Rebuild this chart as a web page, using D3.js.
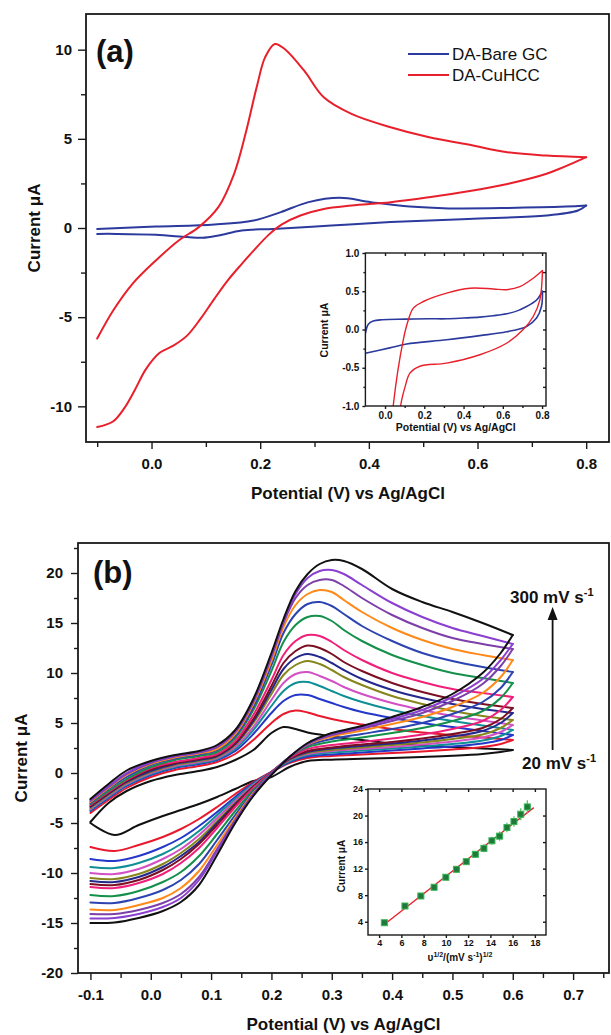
<!DOCTYPE html>
<html>
<head>
<meta charset="utf-8">
<script src="https://cdn.jsdelivr.net/npm/d3@7"></script>
<style>
  body { margin: 0; background: #fff; }
  svg text { font-family: Arial, "Liberation Sans", sans-serif; }
</style>
</head>
<body>
<svg id="chart" width="611" height="1035"></svg>
<script>
// ---------- panel (a) : potential (V), current (uA)
const bareGcForward = [[-0.1,-0.05],[0.008,0.08],[0.116,0.2],[0.188,0.42],[0.238,0.89],[0.289,1.45],[0.346,1.69],[0.404,1.45],[0.475,1.2],[0.547,1.1],[0.655,1.12],[0.763,1.2],[0.8,1.26]];
const bareGcReverse = [[0.8,1.26],[0.785,0.98],[0.727,0.7],[0.583,0.51],[0.44,0.33],[0.331,0.14],[0.224,-0.05],[0.166,-0.14],[0.123,-0.42],[0.094,-0.55],[0.066,-0.51],[0.008,-0.38],[-0.064,-0.33],[-0.1,-0.33]];
const cuhccForward = [[-0.1,-6.2],[-0.07,-4.6],[-0.035,-3.13],[0.008,-1.82],[0.05,-0.7],[0.087,0.05],[0.123,1.17],[0.152,3.04],[0.173,5.28],[0.195,8.08],[0.209,9.57],[0.227,10.32],[0.245,10.04],[0.281,8.82],[0.317,7.33],[0.368,6.4],[0.44,5.65],[0.511,5.09],[0.583,4.68],[0.655,4.25],[0.727,4.06],[0.8,3.97]];
const cuhccReverse = [[0.8,3.97],[0.727,3.04],[0.655,2.47],[0.583,2.06],[0.511,1.73],[0.44,1.45],[0.368,1.26],[0.317,1.07],[0.274,0.7],[0.24,0.2],[0.215,-0.4],[0.19,-1.2],[0.165,-2.05],[0.14,-2.95],[0.115,-4.0],[0.09,-5.1],[0.065,-6.05],[0.04,-6.6],[0.015,-7.0],[-0.01,-7.9],[-0.031,-9.1],[-0.05,-10.1],[-0.071,-10.85],[-0.1,-11.16]];
const legendNames = ["DA-Bare GC", "DA-CuHCC"];

// inset of (a): blank electrolyte
const insetBareForward = [[-0.1,-0.05],[-0.085,0.07],[-0.06,0.11],[-0.015,0.127],[0.1,0.135],[0.222,0.14],[0.314,0.14],[0.4,0.15],[0.483,0.162],[0.55,0.18],[0.619,0.205],[0.68,0.25],[0.721,0.3],[0.76,0.36],[0.78,0.41],[0.802,0.5]];
const insetBareReverse = [[0.802,0.5],[0.797,0.3],[0.772,0.15],[0.721,0.04],[0.619,-0.03],[0.483,-0.08],[0.314,-0.135],[0.11,-0.19],[0.024,-0.24],[-0.1,-0.31]];
const insetCuhccForward = [[0.03,-1.4],[0.042,-0.99],[0.093,-0.135],[0.119,0.127],[0.144,0.28],[0.195,0.366],[0.314,0.476],[0.433,0.54],[0.551,0.53],[0.619,0.52],[0.687,0.56],[0.755,0.67],[0.802,0.77]];
const insetCuhccReverse = [[0.802,0.77],[0.789,0.39],[0.755,0.17],[0.704,0.0],[0.619,-0.18],[0.483,-0.33],[0.314,-0.44],[0.178,-0.48],[0.127,-0.57],[0.102,-0.75],[0.08,-0.99],[0.07,-1.4]];

// ---------- panel (b) : scan rates 20..300 mV/s
const scanRates = [20, 40, 60, 80, 100, 120, 140, 160, 180, 200, 220, 240, 260, 280, 300];
const rateColors = ["#111111","#e8192c","#2437c8","#0e8f95","#d24fc4","#86861c","#22288c","#7a0f22","#f0207a","#14904a","#2c44b0","#ff8a1a","#7d3fa8","#8a3fd0","#111111"];
const potForward = [-0.1,-0.07,-0.04,0.0,0.04,0.08,0.11,0.14,0.17,0.2,0.22,0.24,0.26,0.28,0.3,0.32,0.35,0.4,0.45,0.5,0.55,0.6];
const potReverse = [0.6,0.58,0.55,0.5,0.45,0.4,0.35,0.3,0.26,0.23,0.2,0.17,0.14,0.11,0.08,0.05,0.02,-0.02,-0.06,-0.1];
const currentForward = [
  [-4.9,-3.0,-1.8,-0.8,-0.2,0.2,0.6,1.3,2.3,4.0,4.6,4.4,4.05,3.85,3.65,3.5,3.3,2.95,2.75,2.6,2.45,2.3],
  [-4.0,-2.7,-1.5,-0.4,0.3,0.7,1.1,1.9,3.3,5.0,5.9,6.25,6.05,5.7,5.4,5.15,4.85,4.4,4.05,3.8,3.55,3.3],
  [-3.8,-2.5,-1.3,-0.2,0.5,0.9,1.3,2.2,3.9,6.0,7.2,7.8,7.8,7.4,7.0,6.6,6.1,5.5,5.0,4.6,4.2,3.8],
  [-3.7,-2.4,-1.2,-0.1,0.6,1.0,1.4,2.4,4.3,6.7,8.2,9.0,9.1,8.7,8.2,7.7,7.1,6.3,5.7,5.2,4.75,4.3],
  [-3.6,-2.3,-1.1,0.0,0.7,1.1,1.5,2.6,4.6,7.3,9.0,9.9,10.1,9.7,9.2,8.6,7.9,7.0,6.3,5.7,5.25,4.8],
  [-3.5,-2.2,-1.0,0.1,0.8,1.2,1.6,2.8,5.0,7.9,9.8,10.8,11.2,10.9,10.3,9.6,8.8,7.7,6.9,6.2,5.7,5.3],
  [-3.4,-2.1,-0.9,0.2,0.9,1.3,1.7,2.9,5.2,8.3,10.4,11.5,11.9,11.6,11.0,10.3,9.4,8.3,7.5,6.9,6.4,6.0],
  [-3.3,-2.0,-0.8,0.35,1.0,1.4,1.8,3.0,5.4,8.7,11.0,12.2,12.75,12.5,11.9,11.1,10.2,9.0,8.1,7.4,6.9,6.5],
  [-3.2,-1.9,-0.7,0.5,1.1,1.5,1.9,3.2,5.8,9.3,11.8,13.2,13.8,13.7,13.1,12.3,11.3,10.0,9.1,8.4,8.0,7.6],
  [-3.1,-1.8,-0.6,0.6,1.3,1.7,2.1,3.5,6.3,10.2,13.1,14.8,15.6,15.7,15.2,14.3,13.2,11.8,10.8,10.0,9.5,9.0],
  [-3.0,-1.6,-0.4,0.8,1.45,1.85,2.3,3.7,6.6,10.8,14.0,15.9,16.9,17.1,16.7,15.9,14.7,13.2,12.0,11.2,10.6,10.1],
  [-2.9,-1.5,-0.2,0.9,1.55,1.95,2.4,3.9,6.9,11.2,14.6,16.8,17.9,18.3,18.1,17.3,16.1,14.5,13.3,12.4,11.8,11.3],
  [-2.8,-1.4,-0.1,1.0,1.65,2.05,2.6,4.1,7.1,11.6,15.0,17.5,18.8,19.3,19.3,18.7,17.5,15.8,14.5,13.5,12.9,12.4],
  [-2.7,-1.3,0.0,1.1,1.7,2.1,2.7,4.2,7.3,11.8,15.2,17.9,19.5,20.2,20.3,19.9,18.8,17.0,15.6,14.5,13.7,12.9],
  [-2.6,-1.1,0.25,1.2,1.8,2.2,2.8,4.3,7.4,12.0,15.4,18.2,19.9,20.9,21.3,21.2,20.4,18.4,17.1,16.1,15.0,13.8]
];
const currentReverse = [
  [2.3,2.1,1.9,1.72,1.6,1.5,1.42,1.33,1.2,0.6,-0.4,-0.8,-1.6,-2.4,-3.1,-3.7,-4.3,-5.2,-6.2,-5.0],
  [3.3,2.9,2.6,2.35,2.15,2.0,1.85,1.7,1.5,1.0,0.1,-0.9,-2.1,-3.4,-4.6,-5.6,-6.4,-7.2,-7.8,-7.4],
  [3.8,3.3,2.95,2.65,2.45,2.25,2.05,1.85,1.65,1.1,0.1,-1.0,-2.4,-3.9,-5.3,-6.5,-7.4,-8.3,-8.8,-8.6],
  [4.3,3.7,3.25,2.9,2.65,2.45,2.25,2.05,1.8,1.2,0.1,-1.1,-2.6,-4.2,-5.8,-7.1,-8.1,-9.0,-9.5,-9.4],
  [4.8,4.1,3.55,3.15,2.85,2.6,2.4,2.2,1.9,1.3,0.1,-1.2,-2.8,-4.5,-6.2,-7.6,-8.6,-9.6,-10.1,-10.0],
  [5.3,4.5,3.85,3.4,3.05,2.8,2.55,2.3,2.0,1.35,0.1,-1.3,-3.0,-4.8,-6.6,-8.0,-9.1,-10.1,-10.6,-10.5],
  [6.0,5.0,4.2,3.65,3.25,2.95,2.7,2.45,2.1,1.4,0.1,-1.35,-3.1,-5.0,-6.9,-8.3,-9.4,-10.4,-10.9,-10.8],
  [6.5,5.4,4.5,3.9,3.45,3.1,2.85,2.55,2.2,1.45,0.1,-1.4,-3.2,-5.2,-7.1,-8.6,-9.7,-10.7,-11.2,-11.1],
  [7.6,6.3,5.2,4.4,3.85,3.45,3.1,2.8,2.4,1.5,0.1,-1.5,-3.4,-5.5,-7.5,-9.0,-10.1,-11.0,-11.5,-11.4],
  [9.0,7.5,6.2,5.2,4.5,4.0,3.55,3.15,2.6,1.6,0.0,-1.7,-3.8,-6.1,-8.3,-9.9,-10.9,-11.8,-12.3,-12.2],
  [10.1,8.5,7.1,5.9,5.0,4.4,3.9,3.4,2.75,1.6,0.0,-1.9,-4.2,-6.7,-9.1,-10.7,-11.7,-12.5,-13.0,-12.95],
  [11.3,9.6,8.0,6.6,5.6,4.9,4.25,3.65,2.85,1.6,-0.1,-2.0,-4.5,-7.2,-9.8,-11.5,-12.5,-13.2,-13.7,-13.65],
  [12.4,10.7,8.9,7.2,6.0,5.2,4.45,3.8,2.9,1.6,-0.1,-2.1,-4.7,-7.6,-10.4,-12.1,-13.0,-13.7,-14.1,-14.1],
  [12.9,11.3,9.4,7.6,6.3,5.4,4.6,3.9,2.95,1.6,-0.15,-2.2,-4.9,-7.8,-10.7,-12.5,-13.4,-14.1,-14.5,-14.55],
  [13.8,12.0,10.0,7.9,6.6,5.6,4.7,4.0,3.0,1.6,-0.2,-2.3,-5.0,-8.2,-11.2,-12.9,-13.8,-14.5,-14.95,-15.0]
];

// inset of (b): peak current vs square root of scan rate
const sqrtRate = [4.47, 6.32, 7.75, 8.94, 10.0, 10.95, 11.83, 12.65, 13.42, 14.14, 14.83, 15.49, 16.12, 16.73, 17.32];
const peakCurrent = [3.85, 6.37, 7.88, 9.19, 10.7, 11.9, 13.05, 14.16, 15.06, 16.2, 16.9, 18.2, 19.1, 20.2, 21.3];
const peakError = [0.2, 0.3, 0.3, 0.4, 0.4, 0.5, 0.5, 0.5, 0.6, 0.6, 0.7, 0.7, 0.8, 0.9, 1.0];
const fitX = [4.4, 17.9];
const fitY = [3.5, 21.2];

const FONT = 'Arial, "Liberation Sans", sans-serif';
const INK = "#1a1a1a";
const svg = d3.select("#chart");

function styleAxis(sel, size) {
  sel.select(".domain").remove();
  sel.selectAll(".tick line").attr("stroke", INK).attr("stroke-width", 1.4);
  sel.selectAll(".tick text")
    .attr("font-size", size).attr("font-weight", "bold")
    .attr("fill", "#111").style("font-family", FONT);
}

function axisAt(g, axis, tx, ty, size) {
  g.append("g").attr("transform", `translate(${tx},${ty})`).call(axis).call(styleAxis, size);
}

function frame(g, x, y, w) {
  const [x0, x1] = x.range(), [y0, y1] = y.range();
  g.append("rect")
    .attr("x", x0).attr("y", y1).attr("width", x1 - x0).attr("height", y0 - y1)
    .attr("fill", "none").attr("stroke", INK).attr("stroke-width", w);
}

function curvePath(g, x, y, pts, color, w) {
  const line = d3.line().x(d => x(d[0])).y(d => y(d[1])).curve(d3.curveCatmullRom.alpha(0.5));
  g.append("path").datum(pts)
    .attr("d", line).attr("fill", "none")
    .attr("stroke", color).attr("stroke-width", w)
    .attr("stroke-linejoin", "round").attr("stroke-linecap", "round");
}

function text(g, x, y, str, size, opts = {}) {
  const t = g.append("text").attr("x", x).attr("y", y)
    .attr("font-size", size).attr("font-weight", opts.weight || "bold")
    .attr("fill", opts.fill || "#111").attr("text-anchor", opts.anchor || "start")
    .text(str);
  if (opts.rotate) t.attr("transform", `rotate(-90,${x},${y})`).attr("dy", "0.35em");
  return t;
}

const fmt1 = d => d.toFixed(1);
const fmtInt = d => String(d);
const BLUE = "#2b3a9c", RED = "#e8202c";

// ================= panel (a) =================
const gA = svg.append("g");
const xA = d3.scaleLinear().domain([-0.1206, 0.842]).range([86, 609]);
const yA = d3.scaleLinear().domain([-12, 12]).range([442, 14]);

axisAt(gA, d3.axisBottom(xA).tickValues([0, 0.2, 0.4, 0.6, 0.8]).tickFormat(fmt1).tickSize(7).tickPadding(9), 0, 442, 15);
axisAt(gA, d3.axisBottom(xA).tickValues([-0.1, 0.1, 0.3, 0.5, 0.7]).tickFormat("").tickSize(5), 0, 442, 15);
axisAt(gA, d3.axisLeft(yA).tickValues([-10, -5, 0, 5, 10]).tickFormat(fmtInt).tickSize(8).tickPadding(6), 86, 0, 15);
axisAt(gA, d3.axisLeft(yA).tickValues([-7.5, -2.5, 2.5, 7.5]).tickFormat("").tickSize(5), 86, 0, 15);

curvePath(gA, xA, yA, bareGcForward, BLUE, 2);
curvePath(gA, xA, yA, bareGcReverse, BLUE, 2);
curvePath(gA, xA, yA, cuhccForward, RED, 2);
curvePath(gA, xA, yA, cuhccReverse, RED, 2);
frame(gA, xA, yA, 1.8);

text(gA, 96, 62, "(a)", 31);
[BLUE, RED].forEach((c, i) => {
  const ly = 54 + i * 21;
  gA.append("line").attr("x1", 408).attr("x2", 449).attr("y1", ly).attr("y2", ly)
    .attr("stroke", c).attr("stroke-width", 2);
  text(gA, 452, ly + 6, legendNames[i], 17, { weight: "normal" });
});
text(gA, 348, 499, "Potential (V) vs Ag/AgCl", 17, { anchor: "middle" });
text(gA, 34, 228, "Current \u03bcA", 17, { anchor: "middle", rotate: true });

// inset (a)
const gAi = svg.append("g");
const xAi = d3.scaleLinear().domain([-0.1, 0.82]).range([365.4, 546]);
const yAi = d3.scaleLinear().domain([-1, 1]).range([406, 253]);
gAi.append("rect").attr("x", 365.4).attr("y", 253).attr("width", 180.6).attr("height", 153).attr("fill", "#fff");
axisAt(gAi, d3.axisBottom(xAi).tickValues([0, 0.2, 0.4, 0.6, 0.8]).tickFormat(fmt1).tickSize(3).tickPadding(3), 0, 406, 10);
axisAt(gAi, d3.axisBottom(xAi).tickValues([0.1, 0.3, 0.5, 0.7]).tickFormat("").tickSize(2), 0, 406, 10);
axisAt(gAi, d3.axisTop(xAi).tickValues([0, 0.1, 0.2, 0.3, 0.4, 0.5, 0.6, 0.7, 0.8]).tickFormat("").tickSize(-3), 0, 253, 10);
axisAt(gAi, d3.axisLeft(yAi).tickValues([-1, -0.5, 0, 0.5, 1]).tickFormat(fmt1).tickSize(3).tickPadding(3), 365.4, 0, 10);
axisAt(gAi, d3.axisLeft(yAi).tickValues([-0.75, -0.25, 0.25, 0.75]).tickFormat("").tickSize(2), 365.4, 0, 10);
axisAt(gAi, d3.axisRight(yAi).tickValues([-0.75, -0.5, -0.25, 0, 0.25, 0.5, 0.75]).tickFormat("").tickSize(-3), 546, 0, 10);
svg.append("clipPath").attr("id", "clipAi").append("rect")
  .attr("x", 365.4).attr("y", 253).attr("width", 180.6).attr("height", 153);
const gAiC = gAi.append("g").attr("clip-path", "url(#clipAi)");
curvePath(gAiC, xAi, yAi, insetBareForward, BLUE, 1.6);
curvePath(gAiC, xAi, yAi, insetBareReverse, BLUE, 1.6);
curvePath(gAiC, xAi, yAi, insetCuhccForward, RED, 1.4);
curvePath(gAiC, xAi, yAi, insetCuhccReverse, RED, 1.4);
frame(gAi, xAi, yAi, 1.4);
text(gAi, 455.7, 431, "Potential (V) vs Ag/AgCl", 10.5, { anchor: "middle" });
text(gAi, 324, 330, "Current \u03bcA", 10.5, { anchor: "middle", rotate: true });

// ================= panel (b) =================
const gB = svg.append("g");
const xB = d3.scaleLinear().domain([-0.1206, 0.7595]).range([78, 609]);
const yB = d3.scaleLinear().domain([-20, 23]).range([973, 543]);

axisAt(gB, d3.axisBottom(xB).tickValues(d3.range(-0.1, 0.75, 0.1)).tickFormat(fmt1).tickSize(7).tickPadding(9), 0, 973, 15);
axisAt(gB, d3.axisBottom(xB).tickValues(d3.range(-0.05, 0.76, 0.1)).tickFormat("").tickSize(5), 0, 973, 15);
axisAt(gB, d3.axisLeft(yB).tickValues(d3.range(-20, 21, 5)).tickFormat(fmtInt).tickSize(7).tickPadding(8), 78, 0, 15);
axisAt(gB, d3.axisLeft(yB).tickValues(d3.range(-17.5, 23, 5)).tickFormat("").tickSize(4), 78, 0, 15);

scanRates.forEach((rate, k) => {
  const fwd = potForward.map((e, i) => [e, currentForward[k][i]]);
  const rev = potReverse.map((e, i) => [e, currentReverse[k][i]]);
  curvePath(gB, xB, yB, fwd, rateColors[k], 2);
  curvePath(gB, xB, yB, rev, rateColors[k], 2);
});
frame(gB, xB, yB, 1.8);

text(gB, 93, 583, "(b)", 31);
const t300 = text(gB, 510, 603, "300 mV s", 17);
t300.append("tspan").attr("dy", -7).attr("font-size", 11).text("-1");
const t20 = text(gB, 522, 769, "20 mV s", 17);
t20.append("tspan").attr("dy", -7).attr("font-size", 11).text("-1");
gB.append("line").attr("x1", 552.6).attr("x2", 552.6).attr("y1", 750).attr("y2", 616)
  .attr("stroke", "#111").attr("stroke-width", 1.8);
gB.append("path").attr("d", "M552.6,607 L547.6,620 L557.6,620 Z").attr("fill", "#111");
text(gB, 343.5, 1030, "Potential (V) vs Ag/AgCl", 17, { anchor: "middle" });
text(gB, 21, 758, "Current \u03bcA", 17, { anchor: "middle", rotate: true });

// inset (b)
const gBi = svg.append("g");
const xBi = d3.scaleLinear().domain([3, 19]).range([368, 546]);
const yBi = d3.scaleLinear().domain([2, 24]).range([935, 789]);
gBi.append("rect").attr("x", 368).attr("y", 789).attr("width", 178).attr("height", 146).attr("fill", "#fff");
axisAt(gBi, d3.axisBottom(xBi).tickValues(d3.range(4, 19, 2)).tickFormat(fmtInt).tickSize(3).tickPadding(2), 0, 935, 9);
axisAt(gBi, d3.axisLeft(yBi).tickValues(d3.range(4, 25, 4)).tickFormat(fmtInt).tickSize(3).tickPadding(2), 368, 0, 9);
axisAt(gBi, d3.axisTop(xBi).tickValues(d3.range(4, 19, 2)).tickFormat("").tickSize(-3), 0, 789, 9);
axisAt(gBi, d3.axisRight(yBi).tickValues(d3.range(4, 24, 4)).tickFormat("").tickSize(-3), 546, 0, 9);

gBi.append("line")
  .attr("x1", xBi(fitX[0])).attr("y1", yBi(fitY[0]))
  .attr("x2", xBi(fitX[1])).attr("y2", yBi(fitY[1]))
  .attr("stroke", "#e8202c").attr("stroke-width", 1.4);
const pts = sqrtRate.map((v, i) => ({ x: v, y: peakCurrent[i], e: peakError[i] }));
gBi.selectAll("line.err").data(pts).enter().append("line").attr("class", "err")
  .attr("x1", d => xBi(d.x)).attr("x2", d => xBi(d.x))
  .attr("y1", d => yBi(d.y - d.e)).attr("y2", d => yBi(d.y + d.e))
  .attr("stroke", "#4cbf63").attr("stroke-width", 1.2);
gBi.selectAll("rect.pt").data(pts).enter().append("rect").attr("class", "pt")
  .attr("x", d => xBi(d.x) - 3).attr("y", d => yBi(d.y) - 3)
  .attr("width", 6).attr("height", 6)
  .attr("fill", "#1d7a3a").attr("stroke", "#39b456").attr("stroke-width", 1);
frame(gBi, xBi, yBi, 1.4);

const tx = text(gBi, 460, 961, "\u03c5", 10, { anchor: "middle" });
tx.append("tspan").attr("dy", -4).attr("font-size", 7).text("1/2");
tx.append("tspan").attr("dy", 4).text("/(mV s");
tx.append("tspan").attr("dy", -4).attr("font-size", 7).text("-1");
tx.append("tspan").attr("dy", 4).text(")");
tx.append("tspan").attr("dy", -4).attr("font-size", 7).text("1/2");
text(gBi, 341, 866, "Current \u03bcA", 10, { anchor: "middle", rotate: true });
</script>
</body>
</html>
